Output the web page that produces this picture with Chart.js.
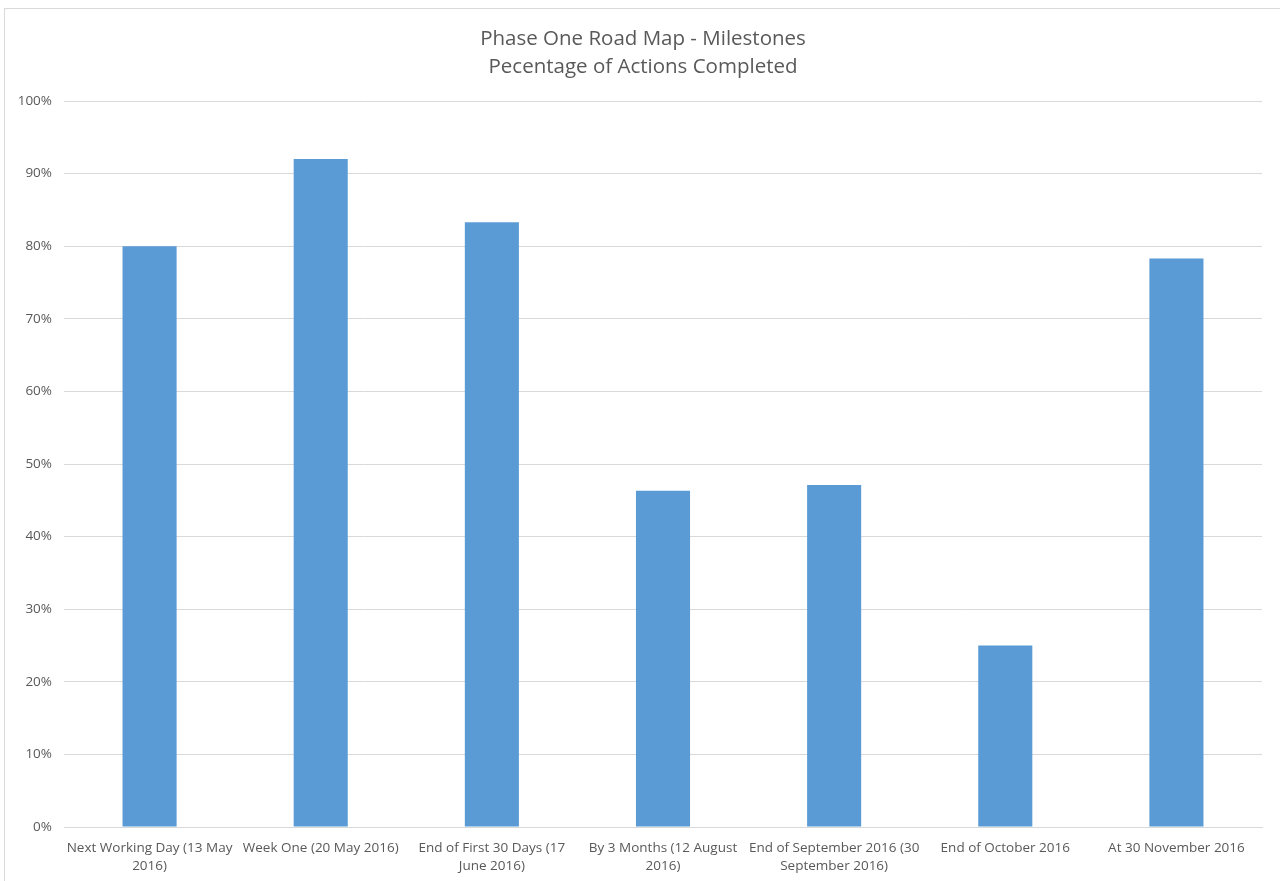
<!DOCTYPE html>
<html>
<head>
<meta charset="utf-8">
<title>Phase One Road Map - Milestones</title>
<script src="https://cdn.jsdelivr.net/npm/chart.js@4/dist/chart.umd.min.js"></script>
<style>
  html, body { margin: 0; padding: 0; background: #fff; }
  .frame {
    position: absolute; left: 4px; top: 8px; width: 1290px; height: 890px;
    border: 1px solid #d9d9d9; box-sizing: border-box;
  }
  .wrap { position: absolute; left: 0; top: 0; width: 1280px; height: 881px; }
</style>
</head>
<body>
<div class="frame"></div>
<div class="wrap"><canvas id="chart"></canvas></div>
<script>
const titleLines = ['Phase One Road Map - Milestones', 'Pecentage of Actions Completed'];

const milestones = [
  ['Next Working Day (13 May', '2016)'],
  'Week One (20 May 2016)',
  ['End of First 30 Days (17', 'June 2016)'],
  ['By 3 Months (12 August', '2016)'],
  ['End of September 2016 (30', 'September 2016)'],
  'End of October 2016',
  'At 30 November 2016',
];

const pctCompleted = [80, 92, 83.3, 46.3, 47.1, 25, 78.3];

const yTicks = [0, 10, 20, 30, 40, 50, 60, 70, 80, 90, 100];

const textColor = '#595959';
const gridColor = '#d9d9d9';
const fontFamily = '"Open Sans", "Noto Sans", "Liberation Sans", sans-serif';

function renderChart() {
  const ctx = document.getElementById('chart').getContext('2d');

  new Chart(ctx, {
    type: 'bar',
    data: {
      labels: milestones,
      datasets: [
        {
          label: 'Percentage completed',
          data: pctCompleted,
          backgroundColor: '#5b9bd5',
          borderWidth: 0,
          categoryPercentage: 1,
          barPercentage: 0.316,
        },
      ],
    },
    options: {
      responsive: true,
      maintainAspectRatio: false,
      animation: false,
      layout: {
        padding: { left: 6, right: 0, top: 0, bottom: 0 },
      },
      scales: {
        x: {
          grid: { display: false, drawTicks: false },
          border: { color: gridColor, width: 1 },
          ticks: {
            color: textColor,
            font: { family: fontFamily, size: 13.5, lineHeight: 18 / 13.5 },
            maxRotation: 0,
            autoSkip: false,
            padding: 12,
          },
          afterFit: function(scale) {
            scale.height = 54;
          },
        },
        y: {
          min: 0,
          max: 100,
          afterBuildTicks: function(scale) {
            scale.ticks = yTicks.map(v => ({ value: v }));
          },
          grid: { color: gridColor, drawTicks: false },
          border: { display: false },
          ticks: {
            color: textColor,
            font: { family: fontFamily, size: 13.5 },
            padding: 12,
            callback: function(value) {
              return value + '%';
            },
          },
          afterFit: function(scale) {
            scale.width = 58;
          },
        },
        // espacio vacío a la derecha del área de trazado
        ySpacer: {
          position: 'right',
          min: 0,
          max: 100,
          grid: { display: false, drawTicks: false },
          border: { display: false },
          ticks: { display: false },
          afterFit: function(scale) {
            scale.width = 18;
          },
        },
      },
      plugins: {
        legend: { display: false },
        tooltip: { enabled: false },
        title: {
          display: true,
          text: titleLines,
          color: textColor,
          font: { family: fontFamily, size: 20.5, weight: 'normal', lineHeight: 28 / 20.5 },
          padding: { top: 25, bottom: 20 },
        },
      },
    },
  });
}

document.addEventListener('DOMContentLoaded', renderChart);
</script>
</body>
</html>
